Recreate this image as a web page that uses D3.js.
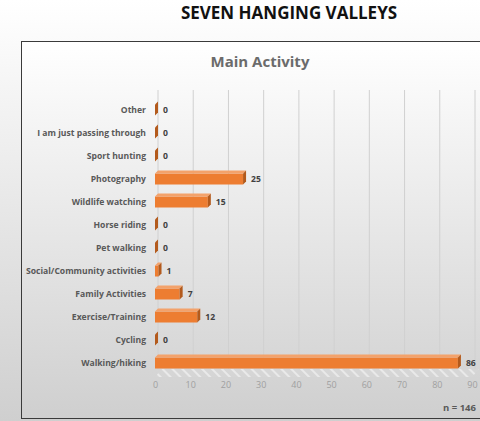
<!DOCTYPE html>
<html>
<head>
<meta charset="utf-8">
<script src="https://cdn.jsdelivr.net/npm/d3@7"></script>
<style>
  body { margin: 0; background: #fff; }
  svg { display: block; font-family: "Open Sans", "Liberation Sans", sans-serif; }
</style>
</head>
<body>
<div id="chart"></div>
<script>
// data, top to bottom as drawn
var categories = ["Other", "I am just passing through", "Sport hunting", "Photography",
  "Wildlife watching", "Horse riding", "Pet walking", "Social/Community activities",
  "Family Activities", "Exercise/Training", "Cycling", "Walking/hiking"];
var counts = [0, 0, 0, 25, 15, 0, 0, 1, 7, 12, 0, 86];
var ticks = [0, 10, 20, 30, 40, 50, 60, 70, 80, 90];
var pageTitle = "SEVEN HANGING VALLEYS";
var chartTitle = "Main Activity";
var note = "n = 146";

var width = 480, height = 421;
var depth = 3, barH = 11;

var svg = d3.select("#chart").append("svg")
  .attr("width", width).attr("height", height);

var defs = svg.append("defs");
var bg = defs.append("linearGradient").attr("id", "bg")
  .attr("x1", 0).attr("y1", 0).attr("x2", 0).attr("y2", 1);
bg.append("stop").attr("offset", "0%").attr("stop-color", "#ffffff");
bg.append("stop").attr("offset", "100%").attr("stop-color", "#cfcfcf");

var hatch = defs.append("pattern").attr("id", "hatch")
  .attr("patternUnits", "userSpaceOnUse").attr("width", 7).attr("height", 7)
  .attr("patternTransform", "rotate(-45)");
hatch.append("rect").attr("width", 7).attr("height", 7).attr("fill", "#d6d6d6");
hatch.append("rect").attr("width", 2).attr("height", 7).attr("fill", "#f2f2f2");

svg.append("rect").attr("width", width).attr("height", height).attr("fill", "url(#bg)");

svg.append("text")
  .attr("x", 289).attr("y", 19)
  .attr("text-anchor", "middle")
  .attr("font-size", 17).attr("font-weight", "bold").attr("fill", "#111")
  .text(pageTitle);

// chart frame
svg.append("rect")
  .attr("x", 21.5).attr("y", 41.5).attr("width", 470).attr("height", 377)
  .attr("fill", "url(#bg)").attr("stroke", "#3a3a3a").attr("stroke-width", 1);

svg.append("text")
  .attr("x", 260).attr("y", 67)
  .attr("text-anchor", "middle")
  .attr("font-size", 15).attr("font-weight", "bold").attr("fill", "#6b6b6b")
  .text(chartTitle);

var x = d3.scaleLinear().domain([0, 90]).range([155, 472]);
var y = d3.scalePoint().domain(categories).range([110, 363]);

var wallTop = 90, floorY = 369;

// floor with hatching
svg.append("path")
  .attr("d", "M" + x(0) + "," + (floorY + 8) + "L" + (x(90) ) + "," + (floorY + 8) +
    "L" + (x(90) + depth + 4) + "," + floorY + "L" + (x(0) + depth + 4) + "," + floorY + "Z")
  .attr("fill", "url(#hatch)").attr("opacity", 0.7);

// gridlines on back wall
svg.append("g").selectAll("line")
  .data(ticks)
  .join("line")
  .attr("x1", function (d) { return x(d) + depth; })
  .attr("x2", function (d) { return x(d) + depth; })
  .attr("y1", wallTop).attr("y2", floorY)
  .attr("stroke", "#d0d0d0").attr("stroke-width", 1);

// axis labels
var axis = svg.append("g")
  .attr("transform", "translate(0," + 382 + ")")
  .call(d3.axisBottom(x).tickValues(ticks).tickSize(0).tickPadding(0));
axis.select(".domain").remove();
axis.selectAll("text")
  .attr("font-size", 9).attr("fill", "#a0a0a0")
  .attr("font-family", "\"Open Sans\", sans-serif");

// category labels
svg.append("g").selectAll("text")
  .data(categories)
  .join("text")
  .attr("x", 146)
  .attr("y", function (d) { return y(d) + 3; })
  .attr("text-anchor", "end")
  .attr("font-size", 8.6).attr("font-weight", "bold").attr("fill", "#595959")
  .text(function (d) { return d; });

// 3d bars
var rows = categories.map(function (c, i) { return { cat: c, v: counts[i] }; });
var bars = svg.append("g").selectAll("g")
  .data(rows)
  .join("g");

bars.append("rect")
  .attr("x", x(0))
  .attr("y", function (d) { return y(d.cat) - barH / 2; })
  .attr("width", function (d) { return x(d.v) - x(0); })
  .attr("height", barH)
  .attr("fill", "#ed7d31");

bars.append("path")
  .attr("d", function (d) {
    var x0 = x(0), x1 = x(d.v), t = y(d.cat) - barH / 2;
    return "M" + x0 + "," + t + "L" + (x0 + depth) + "," + (t - depth) +
      "L" + (x1 + depth) + "," + (t - depth) + "L" + x1 + "," + t + "Z";
  })
  .attr("fill", "#f3a26b");

bars.append("path")
  .attr("d", function (d) {
    var x1 = x(d.v), t = y(d.cat) - barH / 2;
    return "M" + x1 + "," + t + "L" + (x1 + depth) + "," + (t - depth) +
      "L" + (x1 + depth) + "," + (t - depth + barH) + "L" + x1 + "," + (t + barH) + "Z";
  })
  .attr("fill", "#b35a1c");

bars.append("text")
  .attr("x", function (d) { return x(d.v) + depth + 5; })
  .attr("y", function (d) { return y(d.cat) + 3; })
  .attr("font-size", 8.6).attr("font-weight", "bold").attr("fill", "#404040")
  .text(function (d) { return d.v; });

svg.append("text")
  .attr("x", 476).attr("y", 411)
  .attr("text-anchor", "end")
  .attr("font-size", 9.5).attr("font-weight", "bold").attr("fill", "#595959")
  .text(note);
</script>
</body>
</html>
